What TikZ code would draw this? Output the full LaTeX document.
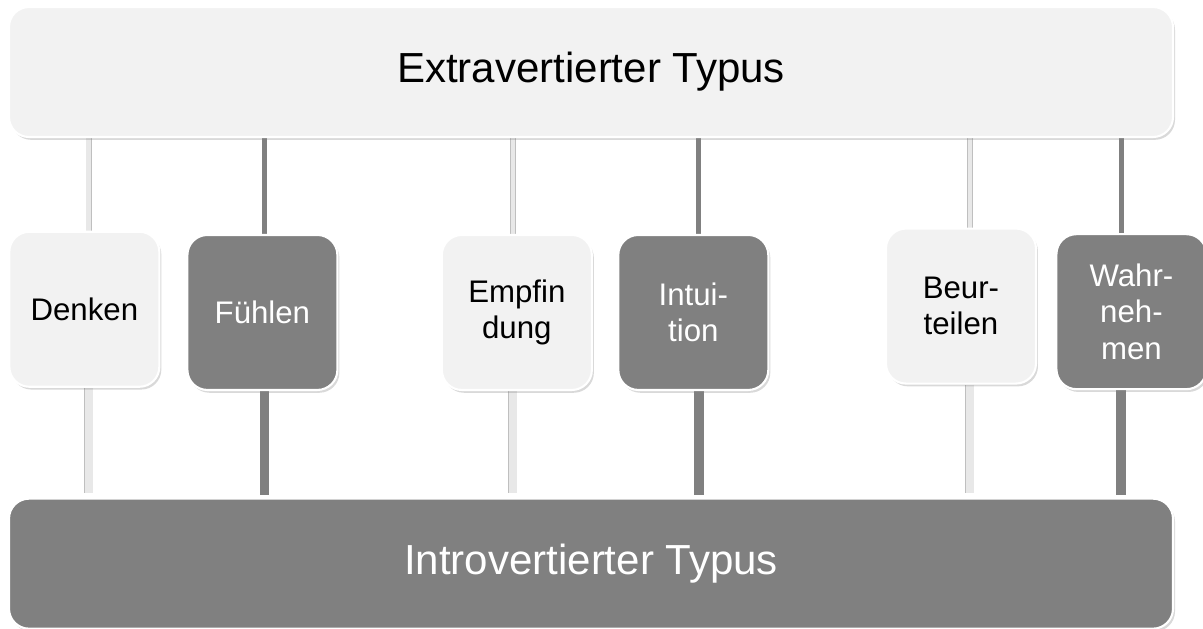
\documentclass[tikz,border=0pt]{standalone}
\usepackage{fontspec}
\setmainfont{Liberation Sans}
\usetikzlibrary{shadows}
\pgfdeclarelayer{background}
\pgfsetlayers{background,main}
\tikzstyle{typus}=[draw=white, line width=1.5pt, rounded corners=0.5cm,
  minimum width=29.1cm, minimum height=3.25cm, text centered,
  font=\fontsize{29.9}{36}\selectfont,
  drop shadow={shadow xshift=0.05cm, shadow yshift=-0.07cm, opacity=0.3}]
\tikzstyle{typushell}=[typus, fill=black!5, text=black]
\tikzstyle{typusdunkel}=[typus, fill=black!50, text=white]
\tikzstyle{hell}=[draw=white, line width=1.5pt, fill=black!5, text=black,
  text width=3.2cm, text centered, minimum width=3.75cm,
  minimum height=3.875cm, rounded corners=0.5cm,
  font=\fontsize{22.2}{26}\selectfont,
  drop shadow={shadow xshift=0.05cm, shadow yshift=-0.07cm, opacity=0.3}]
\tikzstyle{dunkel}=[hell, fill=black!50, text=white]
\tikzstyle{stabhell oben}=[draw, draw=black!25, line width=0.5pt,
  double=black!9, double distance=3.2pt]
\tikzstyle{stabhell unten}=[stabhell oben, double distance=5.6pt,
  shorten >=0.12cm]
\tikzstyle{stabdunkel oben}=[draw, color=black!50, line width=3.6pt]
\tikzstyle{stabdunkel unten}=[stabdunkel oben, line width=6.6pt,
  shorten >=0.07cm]
\newcommand{\typus}[3]{node (t#1) [#3] {#2}}
\newcommand{\funktion}[2]{node (f#1) [hell] {#2}}
\newcommand{\funktiondunkel}[2]{node (f#1) [dunkel] {#2}}
\newcommand{\stab}[3]{%
  \begin{pgfonlayer}{background}
    % Upper part: from the extravert box down to the function
    \path [stab#1 oben] ([xshift=#3cm]f#2.north)
      -- ([xshift=#3cm]f#2.north |- t1.south);
    % Lower part: from the function down to the introvert box
    \path [stab#1 unten] ([xshift=#3cm]f#2.south)
      -- ([xshift=#3cm]f#2.south |- t2.north);
  \end{pgfonlayer}}

\begin{document}
\begin{tikzpicture}
\useasboundingbox (0,0) rectangle (30.075,-15.7);

% Draw diagram elements
\path (14.775,-1.8) \typus{1}{Extravertierter Typus}{typushell};
\path (t1.south west)+(1.91,-4.28) \funktion{1}{Denken};
\path (f1.east)+(2.55,-0.08) \funktiondunkel{2}{Fühlen};
\path (f2.east)+(4.46, 0.0) \funktion{3}{Empfin\\dung};
\path (f3.east)+(2.51, 0.0) \funktiondunkel{4}{Intui-\\tion};
\path (f4.east)+(4.79, 0.16) \funktion{5}{Beur-\\teilen};
\path (f5.east)+(2.36,-0.14) \funktiondunkel{6}{Wahr-\\neh-\\men};
\path (t1.south)+(0.0,-10.64) \typus{2}{Introvertierter Typus}{typusdunkel};

% Draw bars between the two types
\stab{hell}{1}{0.11}
\stab{dunkel}{2}{0.06}
\stab{hell}{3}{-0.1}
\stab{dunkel}{4}{0.14}
\stab{hell}{5}{0.22}
\stab{dunkel}{6}{-0.26}
\end{tikzpicture}
\end{document}
